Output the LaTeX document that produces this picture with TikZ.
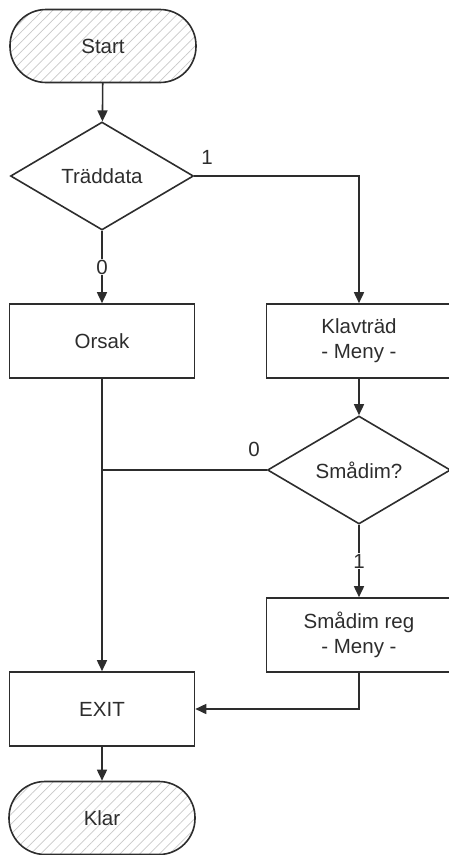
\documentclass[tikz,border=0pt]{standalone}
\usepackage{fontspec}
\setmainfont{Liberation Sans}
\usetikzlibrary{shapes.geometric,arrows.meta,patterns.meta}
\definecolor{ink}{RGB}{45,45,45}
\definecolor{hatch}{RGB}{200,200,200}
\tikzset{
  base/.style={draw=ink, line width=1.6pt, text=ink, font=\fontsize{20.5}{25}\selectfont, align=center, inner sep=0pt},
  term/.style={base, rectangle, rounded corners=36pt, minimum width=186pt, minimum height=73pt,
     pattern={Lines[angle=45,distance=7pt,line width=0.7pt]}, pattern color=hatch},
  decision/.style={base, diamond, minimum width=183pt, minimum height=108pt},
  proc/.style={base, rectangle, minimum width=185pt, minimum height=74pt},
  conn/.style={draw=ink, line width=1.6pt},
  arr/.style={conn, -{Triangle[length=11pt,width=10pt]}},
  lbl/.style={text=ink, font=\fontsize{20.5}{25}\selectfont, fill=white, inner sep=1pt}
}
\begin{document}
\begin{tikzpicture}[x=1pt,y=-1pt]
\useasboundingbox (0,0) rectangle (448,855);
\node[term] (start) at (103,46) {Start};
\node[decision] (d1) at (102,176) {Träddata};
\node[proc] (orsak) at (102,341) {Orsak};
\node[proc] (klav) at (359,341) {Klavträd\\- Meny -};
\node[decision] (d2) at (359,470) {Smådim?};
\node[proc] (smreg) at (359,635) {Smådim reg\\- Meny -};
\node[proc] (exit) at (102,709) {EXIT};
\node[term] (klar) at (102,818) {Klar};
\coordinate (j) at (102,470);

\draw[arr] (start) -- (d1);
\draw[arr] (d1.east) -| (klav.north);
\node[lbl] (l1) at (207,157) {1};
\draw[arr] (d1) -- (orsak) node[lbl, midway] (l0) {0};
\draw[arr] (klav) -- (d2);
\draw[conn] (d2.west) -- (j);
\node[lbl] (l2) at (254,449) {0};
\draw[arr] (orsak) -- (exit);
\draw[arr] (d2) -- (smreg) node[lbl, midway] (l3) {1};
\draw[arr] (smreg.south) |- (exit.east);
\draw[arr] (exit) -- (klar);
\end{tikzpicture}
\end{document}
